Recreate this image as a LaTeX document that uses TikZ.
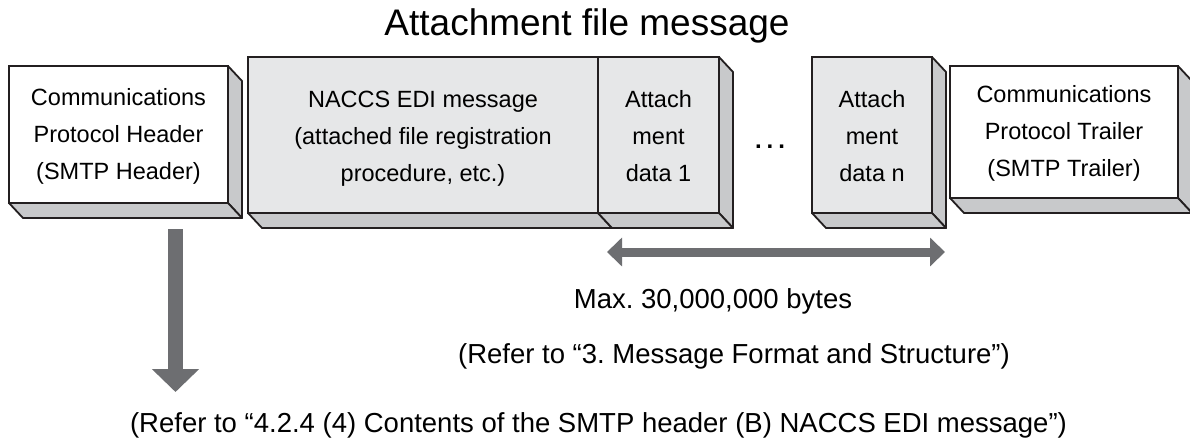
\documentclass[tikz,border=0pt]{standalone}
\usepackage{fontspec}
\setmainfont{Liberation Sans}
\usetikzlibrary{arrows.meta}
\frenchspacing
\definecolor{lineC}{HTML}{231F20}
\definecolor{frontG}{HTML}{E6E7E8}
\definecolor{sideG}{HTML}{C8C9CB}
\definecolor{arrowG}{HTML}{6D6E71}
\tikzset{
  front/.style={rectangle, draw=lineC, line width=1.8pt, fill=frontG, inner sep=0pt, outer sep=0pt},
  whitefront/.style={front, fill=white},
  face/.style={draw=lineC, line width=1.8pt, fill=sideG, line join=round},
  boxtext/.style={font=\fontsize{23.5}{37}\selectfont, align=center, inner sep=0pt, anchor=base},
  bigtext/.style={font=\fontsize{27.5}{33}\selectfont, inner sep=0pt, anchor=base},
  titletext/.style={font=\fontsize{37}{44}\selectfont, inner sep=0pt, anchor=base},
  grayarrow/.style={draw=arrowG, line cap=butt}
}
\newcommand{\sidefaces}[1]{%
  \draw[face] (#1.north east) -- ++(14,15) -- ([shift={(14,15)}]#1.south east) -- (#1.south east) -- cycle;
  \draw[face] (#1.south west) -- (#1.south east) -- ++(14,15) -- ([shift={(14,15)}]#1.south west) -- cycle;
}
\begin{document}
\begin{tikzpicture}[x=1pt,y=-1pt]
\useasboundingbox[fill=white] (0,0) rectangle (1190,445);

% title
\node[titletext] (title) at (587,35) {Attachment file message};

% boxes
\node[whitefront, minimum width=219pt, minimum height=137pt] (hdr) at (118.5,134.5) {};
\sidefaces{hdr}
\node[front, minimum width=350pt, minimum height=156pt] (naccs) at (423,135) {};
\sidefaces{naccs}
\node[front, minimum width=121pt, minimum height=156pt] (att1) at (658.5,135) {};
\sidefaces{att1}
\node[front, minimum width=120pt, minimum height=156pt] (attn) at (872,135) {};
\sidefaces{attn}
\node[whitefront, minimum width=228pt, minimum height=132pt] (trl) at (1064,132) {};
\sidefaces{trl}

% box texts (base anchor = baseline of last line)
\node[boxtext] (hdrtxt) at (118.5,179) {Communications\\Protocol Header\\(SMTP Header)};
\node[boxtext] (naccstxt) at (423,181) {NACCS EDI message\\(attached file registration\\procedure, etc.)};
\node[boxtext] (att1txt) at (658.5,181) {Attach\\ment\\data 1};
\node[boxtext] (attntxt) at (872,181) {Attach\\ment\\data n};
\node[boxtext] (trltxt) at (1064,176) {Communications\\Protocol Trailer\\(SMTP Trailer)};
\node[font=\fontsize{24}{28}\selectfont\bfseries, inner sep=0pt, anchor=base] (dots) at (770,148) {.\kern5pt.\kern5pt.};

% size arrow
\coordinate (sizeL) at (607,252);
\coordinate (sizeR) at (945,252);
\draw[grayarrow, line width=9pt, {Triangle[width=28pt,length=15pt]}-{Triangle[width=28pt,length=15pt]}] (sizeL) -- (sizeR);
\node[bigtext] (maxtxt) at (713,308) {Max. 30,000,000 bytes};
\node[bigtext] (ref3) at (734,363) {(Refer to “3. Message Format and Structure”)};

% down arrow
\coordinate (downS) at (175.5,229);
\coordinate (downE) at (175.5,392);
\draw[grayarrow, line width=15pt, -{Triangle[width=46pt,length=23pt]}] (downS) -- (downE);
\node[bigtext] (ref424) at (598.5,432) {(Refer to “4.2.4 (4) Contents of the SMTP header (B) NACCS EDI message”)};
\end{tikzpicture}
\end{document}
